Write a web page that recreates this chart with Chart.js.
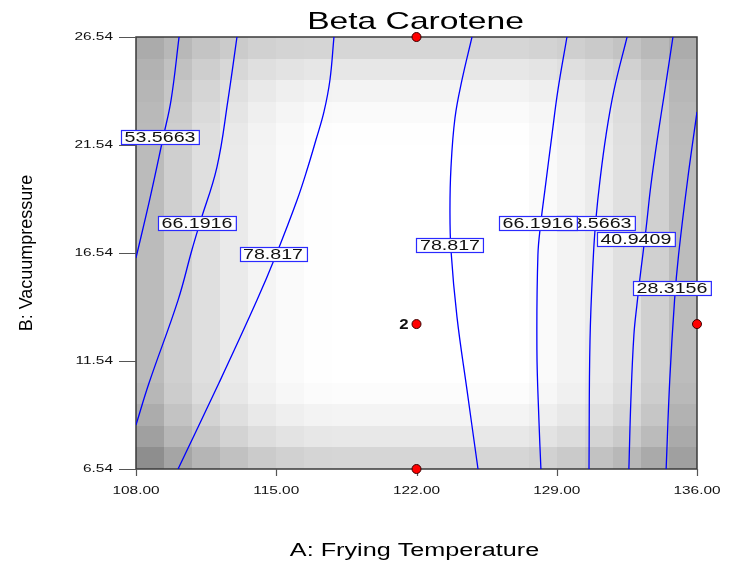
<!DOCTYPE html>
<html>
<head>
<meta charset="utf-8">
<script src="https://cdn.jsdelivr.net/npm/chart.js@4/dist/chart.umd.min.js"></script>
<style>
  html, body { margin: 0; padding: 0; background: #ffffff; }
  canvas { display: block; }
</style>
</head>
<body>
<canvas id="c" width="729" height="565"></canvas>
<script>
// ---- texts ----
const chartTitle = 'Beta Carotene';
const xTitle = 'A: Frying Temperature';
const yTitle = 'B: Vacuumpressure';

// ---- axis ticks ----
const xTicks = [108, 115, 122, 129, 136];
const yTicks = [6.54, 11.54, 16.54, 21.54, 26.54];

// ---- shaded response grid (cell edges and grey level per cell, top row first) ----
const cellEdgesA = [108, 109.4, 110.8, 112.2, 113.6, 115, 116.4, 117.8, 119.2, 120.6, 122,
                    123.4, 124.8, 126.2, 127.6, 129, 130.4, 131.8, 133.2, 134.6, 136];
const cellEdgesB = [26.54, 25.54, 24.54, 23.54, 22.54, 21.54, 20.54, 19.54, 18.54, 17.54, 16.54,
                    15.54, 14.54, 13.54, 12.54, 11.54, 10.54, 9.54, 8.54, 7.54, 6.54];
const shade = [
  [171,184,196,203,209,212,213,214,214,214,214,214,214,214,211,207,202,195,185,172],
  [178,193,206,215,223,227,230,231,231,231,231,231,231,231,228,223,217,209,196,179],
  [182,199,213,224,233,239,242,243,243,243,243,243,243,243,239,234,227,218,204,183],
  [185,203,218,229,239,245,249,250,250,250,250,250,250,250,246,239,231,221,206,186],
  [186,206,222,233,243,249,253,254,254,254,254,254,254,254,249,242,234,223,207,187],
  [187,207,223,234,244,250,254,255,255,255,255,255,255,255,250,243,235,224,208,188],
  [187,207,223,234,244,250,254,255,255,255,255,255,255,255,250,243,235,224,208,188],
  [187,207,223,234,244,250,254,255,255,255,255,255,255,255,250,243,235,224,208,188],
  [187,207,223,234,244,250,254,255,255,255,255,255,255,255,250,243,235,224,208,188],
  [187,207,223,234,244,250,254,255,255,255,255,255,255,255,250,243,235,224,208,188],
  [187,207,223,234,244,250,254,255,255,255,255,255,255,255,250,243,235,224,208,188],
  [187,207,223,234,244,250,254,255,255,255,255,255,255,255,250,243,235,224,208,188],
  [187,207,223,234,244,250,254,255,255,255,255,255,255,255,250,243,235,224,208,188],
  [187,207,223,234,244,250,254,255,255,255,255,255,255,255,250,243,235,224,208,188],
  [187,207,223,234,244,250,254,255,255,255,255,255,255,255,250,243,235,224,208,188],
  [187,207,223,234,244,250,254,255,255,255,255,255,255,255,250,243,235,224,208,188],
  [183,204,220,231,241,247,251,252,252,252,252,252,252,252,247,240,232,221,205,185],
  [172,195,211,223,233,239,243,244,244,244,244,244,244,244,239,232,224,214,198,178],
  [160,183,199,211,221,227,231,232,232,232,232,232,232,232,227,220,212,202,187,170],
  [142,165,181,193,203,209,213,214,214,214,214,214,214,214,209,202,194,184,170,160]
];

// ---- contour lines, [A, B] pairs ----
const contour53Left = [[110.15,26.54],[109.75,23.62],[109.36,21.91],[108.70,19.08],[108.00,16.31]];
const contour66Left = [[113.04,26.54],[112.59,23.62],[112.04,20.52],[111.19,17.93],[110.79,16.68],
                       [110.10,14.36],[108.65,10.52],[108.00,8.58]];
const contour78Left = [[117.88,26.54],[117.68,24.55],[117.38,23.07],[116.98,21.77],[116.58,20.52],
                       [116.04,18.99],[114.99,16.45],[114.04,14.36],[112.14,10.52],[110.10,6.54]];
const contour78Right = [[124.77,26.54],[124.27,24.55],[123.92,22.79],[123.72,20.48],[123.67,18.53],
                        [123.72,16.68],[124.02,13.58],[124.52,10.20],[125.07,6.54]];
const contour66Right = [[129.51,26.54],[129.06,24.09],[128.76,22.00],[128.41,19.46],[128.21,17.98],
                        [128.06,16.45],[128.01,12.05],[128.11,8.81],[128.21,6.54]];
const contour53Right = [[132.51,26.54],[131.86,24.09],[131.46,22.00],[131.16,19.92],[130.96,18.16],
                        [130.83,16.45],[130.66,12.51],[130.61,6.54]];
const contour41 = [[134.80,26.54],[134.40,24.09],[134.05,22.00],[133.70,19.69],[133.45,17.61],
                   [133.20,15.75],[133.00,14.13],[132.85,12.74],[132.70,9.73],[132.60,6.54]];
const contour28 = [[136.00,23.07],[135.53,19.92],[135.08,16.45],[134.88,14.36],[134.64,10.66],[134.46,6.54]];

// ---- contour labels ----
const labelText = ['53.5663', '66.1916', '78.817', '78.817', '53.5663', '66.1916', '40.9409', '28.3156'];
const labelA    = [109.20, 111.04, 114.84, 123.67, 130.96, 128.06, 132.95, 134.75];
const labelB    = [21.91, 17.93, 16.49, 16.91, 17.93, 17.93, 17.19, 14.92];

// ---- design points ----
const designA = [122, 122, 122, 136];
const designB = [26.54, 13.25, 6.54, 13.25];
const designReps = [1, 2, 1, 1];

// ---------------------------------------------------------------------------
const FONT = '"Liberation Sans", Arial, sans-serif';
const STRETCH = 1.4;   // wide lettering used throughout the plot

function stretchedText(ctx, text, x, y, align, sx) {
  ctx.save();
  ctx.translate(x, y);
  ctx.scale(sx, 1);
  ctx.textAlign = align;
  ctx.fillText(text, 0, 0);
  ctx.restore();
}

const toXY = arr => arr.map(p => ({ x: p[0], y: p[1] }));
const lineSet = arr => ({
  type: 'line',
  data: toXY(arr),
  borderColor: '#0000ff',
  borderWidth: 1.3,
  pointRadius: 0,
  fill: false,
  tension: 0.4,
  order: 2
});

const shadingPlugin = {
  id: 'shading',
  beforeDatasetsDraw(chart) {
    const { ctx, scales: { x, y }, chartArea: a } = chart;
    ctx.save();
    for (let r = 0; r < shade.length; r++) {
      const y0 = Math.round(y.getPixelForValue(cellEdgesB[r]));
      const y1 = Math.round(y.getPixelForValue(cellEdgesB[r + 1]));
      for (let c = 0; c < shade[r].length; c++) {
        const x0 = Math.round(x.getPixelForValue(cellEdgesA[c]));
        const x1 = Math.round(x.getPixelForValue(cellEdgesA[c + 1]));
        const g = shade[r][c];
        ctx.fillStyle = `rgb(${g},${g},${g})`;
        ctx.fillRect(x0, y0, x1 - x0, y1 - y0);
      }
    }
    // frame
    ctx.strokeStyle = '#3a3a3a';
    ctx.lineWidth = 1.5;
    ctx.strokeRect(a.left, a.top, a.right - a.left, a.bottom - a.top);
    // tick marks
    ctx.strokeStyle = '#555555';
    ctx.lineWidth = 1.2;
    ctx.beginPath();
    yTicks.forEach(v => {
      const py = Math.round(y.getPixelForValue(v)) + 0.5;
      ctx.moveTo(a.left - 17, py); ctx.lineTo(a.left, py);
    });
    xTicks.forEach(v => {
      const px = Math.round(x.getPixelForValue(v)) + 0.5;
      ctx.moveTo(px, a.bottom); ctx.lineTo(px, a.bottom + 7);
    });
    ctx.stroke();
    // tick labels
    ctx.fillStyle = '#111111';
    ctx.font = `11px ${FONT}`;
    ctx.textBaseline = 'middle';
    yTicks.forEach(v => {
      stretchedText(ctx, v.toFixed(2), a.left - 23, y.getPixelForValue(v), 'right', STRETCH);
    });
    xTicks.forEach(v => {
      stretchedText(ctx, v.toFixed(2), x.getPixelForValue(v), a.bottom + 22, 'center', STRETCH);
    });
    ctx.restore();
  },
  afterDatasetsDraw(chart) {
    const { ctx, scales: { x, y }, chartArea: a } = chart;
    ctx.save();
    // contour labels
    ctx.font = `14px ${FONT}`;
    ctx.textBaseline = 'middle';
    labelText.forEach((t, i) => {
      const cx = x.getPixelForValue(labelA[i]);
      const cy = y.getPixelForValue(labelB[i]);
      const w = ctx.measureText(t).width * STRETCH + 7;
      const h = 14;
      const bx = Math.round(cx - w / 2) + 0.5;
      const by = Math.round(cy - h / 2) + 0.5;
      ctx.fillStyle = '#ffffff';
      ctx.fillRect(bx, by, w, h);
      ctx.strokeStyle = '#2a2aff';
      ctx.lineWidth = 1.2;
      ctx.strokeRect(bx, by, w, h);
      ctx.fillStyle = '#111111';
      stretchedText(ctx, t, cx, cy + 1, 'center', STRETCH);
    });
    // replicate count next to a design point
    ctx.font = `bold 14px ${FONT}`;
    designReps.forEach((n, i) => {
      if (n > 1) {
        ctx.fillStyle = '#111111';
        stretchedText(ctx, String(n), x.getPixelForValue(designA[i]) - 8,
                      y.getPixelForValue(designB[i]) + 1, 'right', 1.2);
      }
    });
    // titles
    ctx.fillStyle = '#000000';
    ctx.textBaseline = 'alphabetic';
    ctx.font = `24px ${FONT}`;
    stretchedText(ctx, chartTitle, (a.left + a.right) / 2 - 1, 29, 'center', STRETCH);
    ctx.font = `18px ${FONT}`;
    stretchedText(ctx, xTitle, (a.left + a.right) / 2 - 2, 556, 'center', STRETCH);
    ctx.save();
    ctx.translate(32, (a.top + a.bottom) / 2);
    ctx.rotate(-Math.PI / 2);
    ctx.textAlign = 'center';
    ctx.fillText(yTitle, 0, 0);
    ctx.restore();
    ctx.restore();
  }
};

new Chart(document.getElementById('c'), {
  type: 'scatter',
  data: {
    datasets: [
      {
        type: 'scatter',
        data: designA.map((a, i) => ({ x: a, y: designB[i] })),
        pointRadius: 4.5,
        pointHoverRadius: 4.5,
        backgroundColor: '#ff0000',
        borderColor: '#3a0000',
        borderWidth: 1,
        clip: false,
        order: 0
      },
      lineSet(contour53Left),
      lineSet(contour66Left),
      lineSet(contour78Left),
      lineSet(contour78Right),
      lineSet(contour66Right),
      lineSet(contour53Right),
      lineSet(contour41),
      lineSet(contour28)
    ]
  },
  options: {
    responsive: false,
    animation: false,
    devicePixelRatio: 1,
    events: [],
    layout: { padding: { left: 0, right: 32, top: 37, bottom: 0 } },
    plugins: { legend: { display: false }, title: { display: false }, tooltip: { enabled: false } },
    scales: {
      x: {
        type: 'linear', min: 108, max: 136,
        grid: { display: false }, border: { display: false },
        ticks: { display: false },
        afterBuildTicks: s => { s.ticks = xTicks.map(v => ({ value: v })); },
        afterFit: s => { s.height = 96; }
      },
      y: {
        type: 'linear', min: 6.54, max: 26.54,
        grid: { display: false }, border: { display: false },
        ticks: { display: false },
        afterBuildTicks: s => { s.ticks = yTicks.map(v => ({ value: v })); },
        afterFit: s => { s.width = 136; }
      }
    }
  },
  plugins: [shadingPlugin]
});
</script>
</body>
</html>
